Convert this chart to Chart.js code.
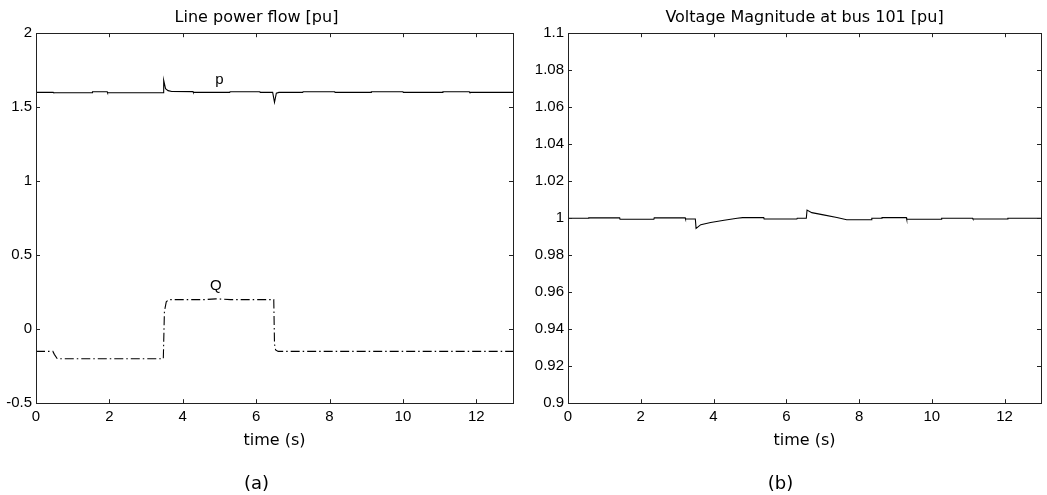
<!DOCTYPE html>
<html>
<head>
<meta charset="utf-8">
<script src="https://cdn.jsdelivr.net/npm/chart.js@4.4.1/dist/chart.umd.min.js"></script>
<style>
  body { margin: 0; background: #fff; }
  #wrap { position: relative; width: 1047px; height: 495px; }
  canvas { position: absolute; top: 0; }
</style>
</head>
<body>
<div id="wrap">
  <canvas id="chartA" width="520" height="495" style="left:0"></canvas>
  <canvas id="chartB" width="527" height="495" style="left:520px"></canvas>
</div>
<script>
// (a) line power flow
var pTime  = [0, 0.47, 0.48, 1.53, 1.54, 1.94, 1.95, 3.47, 3.48, 3.53, 3.6, 3.7, 4.28, 4.29, 5.28, 5.29, 6.1, 6.11, 6.45, 6.5, 6.55, 6.62, 7.27, 7.28, 8.14, 8.15, 9.13, 9.14, 10.0, 10.01, 11.08, 11.09, 11.81, 11.82, 13];
var pValue = [1.6, 1.6, 1.598, 1.598, 1.604, 1.604, 1.598, 1.598, 1.682, 1.625, 1.612, 1.606, 1.605, 1.6, 1.6, 1.604, 1.604, 1.6, 1.6, 1.533, 1.595, 1.6, 1.6, 1.604, 1.604, 1.6, 1.6, 1.604, 1.604, 1.6, 1.6, 1.604, 1.604, 1.6, 1.6];
var qTime  = [0, 0.46, 0.5, 0.58, 3.47, 3.5, 3.55, 3.62, 4.6, 4.9, 5.3, 6.48, 6.5, 6.53, 6.6, 13];
var qValue = [-0.15, -0.15, -0.17, -0.2, -0.2, 0.12, 0.185, 0.2, 0.2, 0.205, 0.2, 0.2, -0.1, -0.14, -0.15, -0.15];
var powerTicks = [-0.5, 0, 0.5, 1, 1.5, 2];

// (b) voltage at bus 101
var vTime  = [0, 0.56, 0.57, 1.42, 1.43, 2.36, 2.37, 3.22, 3.23, 3.5, 3.52, 3.65, 3.92, 4.29, 4.65, 4.8, 5.38, 5.39, 6.29, 6.3, 6.55, 6.57, 6.7, 7.02, 7.39, 7.66, 8.34, 8.35, 8.62, 8.63, 9.3, 9.31, 10.26, 10.27, 11.12, 11.13, 12.08, 12.09, 13];
var vValue = [1.0, 1.0, 1.0002, 1.0002, 0.9994, 0.9994, 1.0002, 1.0002, 0.9996, 0.9996, 0.9945, 0.9965, 0.9977, 0.9989, 1.0, 1.0003, 1.0003, 0.9996, 0.9996, 1.0, 1.0, 1.0044, 1.003, 1.0018, 1.0004, 0.9992, 0.9992, 1.0, 1.0, 1.0003, 1.0003, 0.9994, 0.9994, 1.0, 1.0, 0.9996, 0.9996, 1.0, 1.0];
var voltageTicks = [0.9, 0.92, 0.94, 0.96, 0.98, 1, 1.02, 1.04, 1.06, 1.08, 1.1];

var timeTicks = [0, 2, 4, 6, 8, 10, 12];

// curve labels
var labelText = ['p', 'Q'];
var labelTime = [5.0, 4.9];
var labelValue = [1.682, 0.293];

function toPoints(xs, ys) {
    return xs.map(function (x, i) { return { x: x, y: ys[i] }; });
}

var tickFont = { family: '"Liberation Sans", Arial, sans-serif', size: 15 };
var titleFamily = '"DejaVu Sans", sans-serif';

// matlab style box with inward ticks, plus text labels on curves
var boxPlugin = {
    id: 'box',
    afterDatasetsDraw: function (chart, args, opts) {
        var ctx = chart.ctx;
        var a = chart.chartArea;
        var xs = chart.scales.x, ys = chart.scales.y;
        ctx.save();
        ctx.strokeStyle = '#222';
        ctx.lineWidth = 1;
        ctx.strokeRect(Math.round(a.left) + 0.5, Math.round(a.top) + 0.5,
            Math.round(a.right - a.left), Math.round(a.bottom - a.top));
        ctx.beginPath();
        xs.ticks.forEach(function (t) {
            var px = Math.round(xs.getPixelForValue(t.value)) + 0.5;
            ctx.moveTo(px, a.bottom); ctx.lineTo(px, a.bottom - 4);
            ctx.moveTo(px, a.top); ctx.lineTo(px, a.top + 4);
        });
        ys.ticks.forEach(function (t) {
            var py = Math.round(ys.getPixelForValue(t.value)) + 0.5;
            ctx.moveTo(a.left, py); ctx.lineTo(a.left + 4, py);
            ctx.moveTo(a.right, py); ctx.lineTo(a.right - 4, py);
        });
        ctx.stroke();
        if (opts.labels) {
            ctx.fillStyle = '#000';
            ctx.font = '15px "Liberation Sans", Arial, sans-serif';
            ctx.textAlign = 'center';
            ctx.textBaseline = 'middle';
            opts.labels.text.forEach(function (s, i) {
                ctx.fillText(s, xs.getPixelForValue(opts.labels.x[i]), ys.getPixelForValue(opts.labels.y[i]));
            });
        }
        ctx.restore();
    }
};

function makeOptions(cfg) {
    return {
        responsive: false,
        animation: false,
        layout: { padding: { right: cfg.padRight } },
        plugins: {
            legend: { display: false },
            tooltip: { enabled: false },
            title: {
                display: true,
                text: cfg.title,
                color: '#000',
                fullSize: cfg.titleFull,
                font: { family: titleFamily, size: 16, weight: 'normal' },
                padding: { top: 8, bottom: 6 }
            },
            subtitle: {
                display: true,
                text: cfg.sub,
                position: 'bottom',
                color: '#000',
                font: { family: titleFamily, size: 18, weight: 'normal' },
                padding: { top: 19, bottom: 0 }
            },
            box: { labels: cfg.labels }
        },
        scales: {
            x: {
                type: 'linear',
                min: 0, max: 13,
                grid: { display: false, drawTicks: false },
                border: { display: false },
                afterBuildTicks: function (s) { s.ticks = timeTicks.map(function (v) { return { value: v }; }); },
                ticks: { color: '#000', font: tickFont, padding: 5, maxRotation: 0,
                    callback: function (v) { return String(v); } },
                title: {
                    display: true, text: 'time (s)', color: '#000',
                    font: { family: titleFamily, size: 16 },
                    padding: { top: 0, bottom: 4 }
                }
            },
            y: {
                min: cfg.yMin, max: cfg.yMax,
                grid: { display: false, drawTicks: false },
                border: { display: false },
                afterBuildTicks: function (s) { s.ticks = cfg.yTicks.map(function (v) { return { value: v }; }); },
                afterFit: function (s) { s.width = cfg.yWidth; },
                ticks: { color: '#000', font: tickFont, padding: 4,
                    callback: function (v) { return String(v); } }
            }
        }
    };
}

new Chart(document.getElementById('chartA').getContext('2d'), {
    type: 'line',
    data: {
        datasets: [
            { data: toPoints(pTime, pValue), borderColor: '#000', borderWidth: 1.1, pointRadius: 0, tension: 0 },
            { data: toPoints(qTime, qValue), borderColor: '#000', borderWidth: 1.1, pointRadius: 0, tension: 0,
              borderDash: [9, 3, 1.5, 3] }
        ]
    },
    options: makeOptions({
        title: 'Line power flow [pu]', sub: '(a)', titleFull: true, padRight: 7,
        yMin: -0.5, yMax: 2, yTicks: powerTicks, yWidth: 36,
        labels: { text: labelText, x: labelTime, y: labelValue }
    }),
    plugins: [boxPlugin]
});

new Chart(document.getElementById('chartB').getContext('2d'), {
    type: 'line',
    data: {
        datasets: [
            { data: toPoints(vTime, vValue), borderColor: '#000', borderWidth: 1.1, pointRadius: 0, tension: 0 }
        ]
    },
    options: makeOptions({
        title: 'Voltage Magnitude at bus 101 [pu]', sub: '(b)', titleFull: false, padRight: 6,
        yMin: 0.9, yMax: 1.1, yTicks: voltageTicks, yWidth: 48,
        labels: null
    }),
    plugins: [boxPlugin]
});
</script>
</body>
</html>
